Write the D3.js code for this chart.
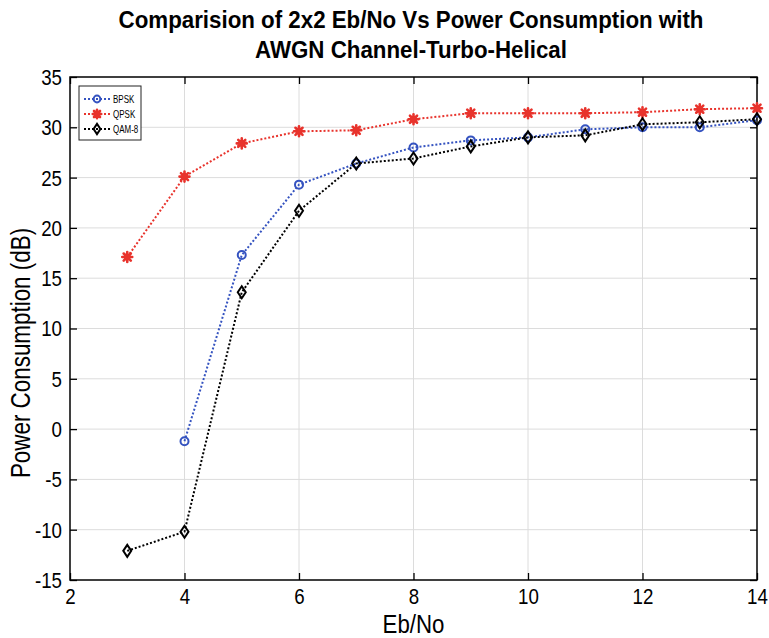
<!DOCTYPE html>
<html>
<head>
<meta charset="utf-8">
<script src="https://cdn.jsdelivr.net/npm/d3@7"></script>
<style>
  html, body { margin: 0; padding: 0; background: #fff; }
  svg { display: block; font-family: "Liberation Sans", Arial, Helvetica, sans-serif; }
</style>
</head>
<body>
<svg id="chart" width="769" height="638"></svg>
<script>
// Eb/No sweep and measured power consumption per modulation
const ebno = [3, 4, 5, 6, 7, 8, 9, 10, 11, 12, 13, 14];
const bpsk = [null, -1.2, 17.3, 24.3, 26.4, 28.0, 28.7, 29.0, 29.8, 30.0, 30.0, 30.7];
const qpsk = [17.1, 25.1, 28.4, 29.6, 29.7, 30.8, 31.4, 31.4, 31.4, 31.5, 31.8, 31.9];
const qam8 = [-12.1, -10.2, 13.6, 21.7, 26.4, 26.9, 28.1, 29.0, 29.2, 30.3, 30.5, 30.8];
const xTicks = [2, 4, 6, 8, 10, 12, 14];
const yTicks = [-15, -10, -5, 0, 5, 10, 15, 20, 25, 30, 35];

const series = [
  { name: "BPSK", values: bpsk, color: "#3553c0", marker: "circle" },
  { name: "QPSK", values: qpsk, color: "#e8332c", marker: "asterisk" },
  { name: "QAM-8", values: qam8, color: "#000000", marker: "diamond" }
];

const svg = d3.select("#chart");
const m = { left: 70, right: 12, top: 77, bottom: 58 };
const W = 769, H = 638;
const x = d3.scaleLinear().domain([2, 14]).range([m.left, W - m.right]);
const y = d3.scaleLinear().domain([-15, 35]).range([H - m.bottom, m.top]);

// condensed lettering: squeeze text along its own direction
const SQ = 0.85;

// grid
const grid = svg.append("g").attr("stroke", "#dcdcdc").attr("stroke-width", 1);
xTicks.slice(1, -1).forEach(t => grid.append("line")
  .attr("x1", x(t)).attr("x2", x(t)).attr("y1", y(-15)).attr("y2", y(35)));
yTicks.slice(1, -1).forEach(t => grid.append("line")
  .attr("x1", x(2)).attr("x2", x(14)).attr("y1", y(t)).attr("y2", y(t)));

// axes with inward ticks on all four sides
const tickLen = 7;
const fmt = d => String(d);
const axB = d3.axisBottom(x).tickValues(xTicks).tickSizeInner(-tickLen).tickSizeOuter(0).tickFormat(fmt);
const axT = d3.axisTop(x).tickValues(xTicks).tickSizeInner(-tickLen).tickSizeOuter(0).tickFormat("");
const axL = d3.axisLeft(y).tickValues(yTicks).tickSizeInner(-tickLen).tickSizeOuter(0).tickFormat(fmt);
const axR = d3.axisRight(y).tickValues(yTicks).tickSizeInner(-tickLen).tickSizeOuter(0).tickFormat("");

function styleAxis(g) {
  g.select(".domain").remove();
  g.selectAll(".tick line").attr("stroke", "#000").attr("stroke-width", 1.3);
  g.selectAll("text").attr("font-size", 22).attr("fill", "#000");
}
svg.append("g").attr("transform", `translate(0,${y(-15)})`).call(axB).call(styleAxis)
  .selectAll(".tick text")
  .attr("x", 0).attr("y", 0).attr("dy", null)
  .attr("transform", `translate(0,24) scale(${SQ},1)`);
svg.append("g").attr("transform", `translate(0,${y(35)})`).call(axT).call(styleAxis);
svg.append("g").attr("transform", `translate(${x(2)},0)`).call(axL).call(styleAxis)
  .selectAll(".tick text")
  .attr("x", 0).attr("dy", "0.34em")
  .attr("transform", `translate(-8,0) scale(${SQ},1)`);
svg.append("g").attr("transform", `translate(${x(14)},0)`).call(axR).call(styleAxis);

svg.append("rect")
  .attr("x", x(2)).attr("y", y(35))
  .attr("width", x(14) - x(2)).attr("height", y(-15) - y(35))
  .attr("fill", "none").attr("stroke", "#000").attr("stroke-width", 1.5);

// marker drawing
function drawMarker(g, type, color, cx, cy, s) {
  if (type === "circle") {
    g.append("circle").attr("cx", cx).attr("cy", cy).attr("r", 4 * s)
      .attr("fill", "none").attr("stroke", color).attr("stroke-width", 2);
  } else if (type === "diamond") {
    g.append("path")
      .attr("d", `M${cx},${cy - 6 * s}L${cx + 4 * s},${cy}L${cx},${cy + 6 * s}L${cx - 4 * s},${cy}Z`)
      .attr("fill", "none").attr("stroke", color).attr("stroke-width", 2);
  } else {
    const r = 5 * s;
    const p = [];
    for (let k = 0; k < 4; k++) {
      const a = k * Math.PI / 4;
      p.push(`M${cx - r * Math.cos(a)},${cy - r * Math.sin(a)}L${cx + r * Math.cos(a)},${cy + r * Math.sin(a)}`);
    }
    g.append("path").attr("d", p.join("")).attr("stroke", color).attr("stroke-width", 2.6)
      .attr("stroke-linecap", "round");
    g.append("circle").attr("cx", cx).attr("cy", cy).attr("r", 3 * s).attr("fill", color);
  }
}

// series
const line = d3.line()
  .defined(d => d[1] !== null)
  .x(d => x(d[0])).y(d => y(d[1]));

series.forEach(sr => {
  const pts = ebno.map((e, i) => [e, sr.values[i]]);
  svg.append("path").datum(pts)
    .attr("d", line)
    .attr("fill", "none").attr("stroke", sr.color)
    .attr("stroke-width", 2).attr("stroke-dasharray", "2,2");
  const g = svg.append("g");
  pts.filter(d => d[1] !== null).forEach(d => drawMarker(g, sr.marker, sr.color, x(d[0]), y(d[1]), 1));
});

// legend
const lg = svg.append("g");
lg.append("rect").attr("x", 79).attr("y", 86).attr("width", 62).attr("height", 54)
  .attr("fill", "#fff").attr("stroke", "#222").attr("stroke-width", 1);
series.forEach((sr, i) => {
  const ly = 99 + i * 15;
  lg.append("line").attr("x1", 84).attr("x2", 110).attr("y1", ly).attr("y2", ly)
    .attr("stroke", sr.color).attr("stroke-width", 2).attr("stroke-dasharray", "2,2");
  drawMarker(lg, sr.marker, sr.color, 97, ly, 0.85);
  lg.append("text")
    .attr("transform", `translate(113,${ly + 3.5}) scale(0.8,1)`)
    .attr("font-size", 10).attr("fill", "#000").text(sr.name);
});

// title and axis labels
const titleLines = ["Comparision of 2x2 Eb/No Vs Power Consumption with", "AWGN Channel-Turbo-Helical"];
titleLines.forEach((t, i) => {
  svg.append("text")
    .attr("transform", `translate(411,${28 + i * 30}) scale(0.93,1)`)
    .attr("text-anchor", "middle").attr("font-weight", "bold")
    .attr("font-size", 24).attr("fill", "#000").text(t);
});

svg.append("text")
  .attr("transform", `translate(${x(8)},633) scale(0.89,1)`)
  .attr("text-anchor", "middle")
  .attr("font-size", 25).attr("fill", "#000").text("Eb/No");

svg.append("text")
  .attr("transform", `translate(29.5,353) rotate(-90) scale(0.83,1)`)
  .attr("text-anchor", "middle")
  .attr("font-size", 27).attr("fill", "#000").text("Power Consumption (dB)");
</script>
</body>
</html>
